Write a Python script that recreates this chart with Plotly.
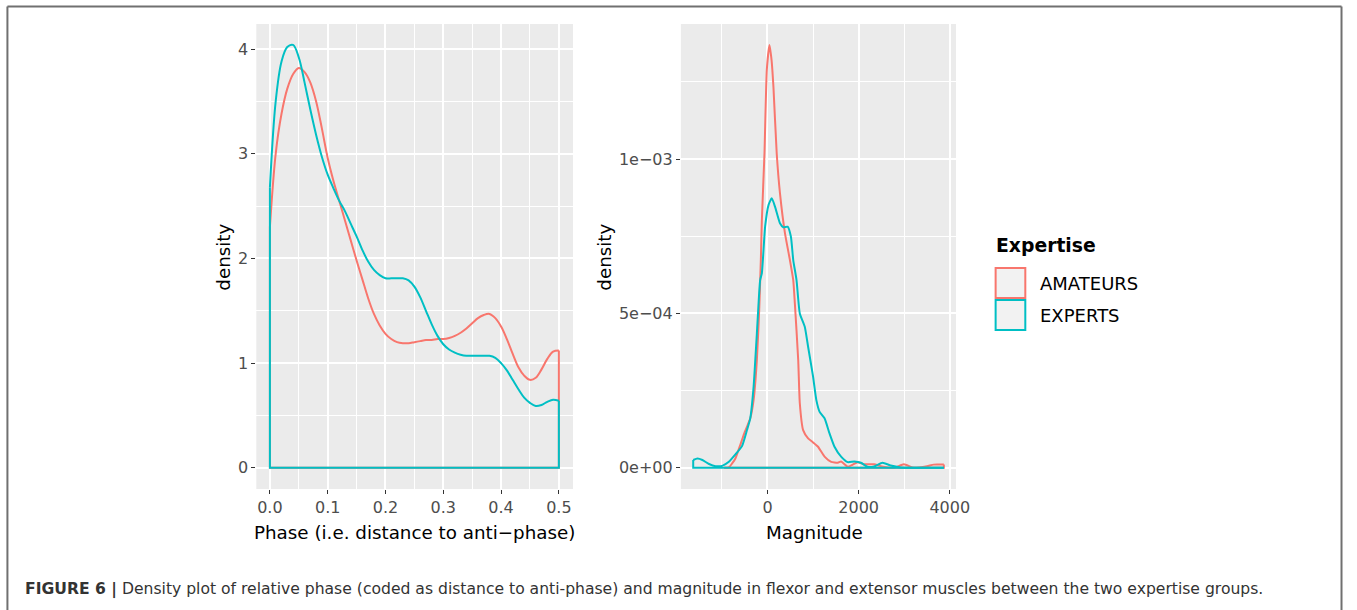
import plotly.graph_objects as go

# phase panel (x = distance to anti-phase)
phase_x = [0.00, 0.01, 0.02, 0.03, 0.04, 0.05, 0.06, 0.07, 0.08, 0.09,
           0.10, 0.11, 0.12, 0.13, 0.14, 0.15, 0.16, 0.17, 0.18, 0.19,
           0.20, 0.21, 0.22, 0.23, 0.24, 0.25, 0.26, 0.27, 0.28, 0.29,
           0.30, 0.31, 0.32, 0.33, 0.34, 0.35, 0.36, 0.37, 0.38, 0.39,
           0.40, 0.41, 0.42, 0.43, 0.44, 0.45, 0.46, 0.47, 0.48, 0.49, 0.50]
phase_amateurs = [2.30, 3.00, 3.38, 3.62, 3.76, 3.82, 3.78, 3.68, 3.50, 3.24,
                  2.96, 2.74, 2.55, 2.36, 2.17, 1.98, 1.80, 1.62, 1.47, 1.36,
                  1.28, 1.23, 1.20, 1.19, 1.19, 1.20, 1.21, 1.22, 1.22, 1.23,
                  1.23, 1.24, 1.26, 1.29, 1.33, 1.38, 1.43, 1.46, 1.47, 1.43,
                  1.35, 1.23, 1.09, 0.96, 0.88, 0.84, 0.86, 0.94, 1.04, 1.11, 1.12]
phase_experts = [2.68, 3.50, 3.88, 4.02, 4.04, 3.92, 3.68, 3.42, 3.18, 2.97,
                 2.80, 2.67, 2.55, 2.45, 2.33, 2.21, 2.08, 1.97, 1.89, 1.84,
                 1.81, 1.81, 1.81, 1.81, 1.79, 1.73, 1.63, 1.50, 1.37, 1.26,
                 1.18, 1.13, 1.10, 1.08, 1.07, 1.07, 1.07, 1.07, 1.07, 1.05,
                 1.00, 0.93, 0.84, 0.75, 0.67, 0.62, 0.59, 0.60, 0.63, 0.65, 0.64]

# magnitude panel
mag_x_amateurs = [-950, -848, -776, -704, -630, -559, -500, -450, -378, -305,
                  -233, -182, -146, -124, -66, -15, 43, 90, 130, 202,
                  274, 383, 492, 565, 600, 674, 709, 782, 891, 1000,
                  1109, 1252, 1398, 1543, 1615, 1761, 1870, 1978, 2123, 2339,
                  2486, 2776, 2993, 3210, 3500, 3645, 3870]
mag_amateurs = [0, 0.000001, 0.000014, 0.000030, 0.000060, 0.000090, 0.000115, 0.000133, 0.000160, 0.000219,
                0.000349, 0.000511, 0.000673, 0.000800, 0.001019, 0.001289, 0.001370, 0.001320, 0.001235, 0.001019,
                0.000889, 0.000760, 0.000673, 0.000608, 0.000533, 0.000349, 0.000209, 0.000122, 0.000095, 0.000082,
                0.000068, 0.000036, 0.000019, 0.000016, 0.000020, 0.000003, 0.000010, 0.000018, 0.000011, 0.000011,
                0.000005, 0.000000, 0.000011, 0.000000, 0.000005, 0.000010, 0.000010]

mag_x_experts = [-1630, -1537, -1428, -1283, -1139, -994, -848, -704, -559, -450,
                 -378, -305, -233, -161, -124, -52, 22, 93, 165, 274,
                 348, 441, 513, 565, 637, 709, 818, 891, 1000, 1072,
                 1144, 1252, 1361, 1470, 1615, 1761, 1905, 2050, 2196, 2341,
                 2522, 2704, 2921, 3210, 3870]
mag_experts = [0.000025, 0.000030, 0.000025, 0.000012, 0.000005, 0.000006, 0.000019, 0.000043, 0.000070, 0.000122,
               0.000160, 0.000262, 0.000435, 0.000608, 0.000630, 0.000781, 0.000851, 0.000873, 0.000846, 0.000792,
               0.000779, 0.000781, 0.000749, 0.000673, 0.000608, 0.000500, 0.000457, 0.000392, 0.000295, 0.000219,
               0.000181, 0.000160, 0.000111, 0.000068, 0.000036, 0.000018, 0.000020, 0.000016, 0.000003, 0.000004,
               0.000016, 0.000007, 0.000001, 0.000000, 0.000000]

groups = ["AMATEURS", "EXPERTS"]
colors = {"AMATEURS": "#F8766D", "EXPERTS": "#00BFC4"}

W, H = 1357, 610
FONT = "DejaVu Sans, Liberation Sans, Arial, sans-serif"


def px(x):
    return x / W


def py(y):
    return 1 - y / H


fig = go.Figure()

panel_data = [
    ("x", "y", phase_x, phase_amateurs, phase_x, phase_experts, 1.0),
    ("x2", "y2", mag_x_amateurs, mag_amateurs, mag_x_experts, mag_experts, 0.5),
]
for xa, ya, xa_vals, a_vals, xe_vals, e_vals, smooth in panel_data:
    for g, xs, ys in [("AMATEURS", xa_vals, a_vals), ("EXPERTS", xe_vals, e_vals)]:
        # open sides + baseline of the density outline
        fig.add_trace(go.Scatter(x=[xs[-1], xs[-1], xs[0], xs[0]], y=[ys[-1], 0, 0, ys[0]],
                                 mode="lines", xaxis=xa, yaxis=ya,
                                 line=dict(color=colors[g], width=2),
                                 showlegend=False, hoverinfo="skip"))
        fig.add_trace(go.Scatter(x=xs, y=ys, mode="lines", xaxis=xa, yaxis=ya,
                                 line=dict(color=colors[g], width=2, shape="spline", smoothing=smooth),
                                 showlegend=False, hoverinfo="skip"))

axis_common = dict(showgrid=True, gridcolor="white", gridwidth=1.8,
                   zeroline=False, showline=False, ticks="outside",
                   ticklen=4, tickwidth=1.2, tickcolor="#333333",
                   tickfont=dict(family=FONT, size=16, color="#4D4D4D"))

fig.update_layout(
    width=W, height=H, autosize=False,
    margin=dict(l=0, r=0, t=0, b=0),
    paper_bgcolor="white",
    plot_bgcolor="#EBEBEB",
    showlegend=False,
    xaxis=dict(domain=[px(259), px(579)], range=[-0.0235, 0.5245], anchor="y",
               tickmode="array", tickvals=[0, 0.1, 0.2, 0.3, 0.4, 0.5],
               ticktext=["0.0", "0.1", "0.2", "0.3", "0.4", "0.5"],
               minor=dict(tickvals=[0.05, 0.15, 0.25, 0.35, 0.45],
                          showgrid=True, gridcolor="white", gridwidth=0.8, ticks=""),
               **axis_common),
    yaxis=dict(domain=[py(489), py(24)], range=[-0.203, 4.24], anchor="x",
               tickmode="array", tickvals=[0, 1, 2, 3, 4],
               minor=dict(tickvals=[0.5, 1.5, 2.5, 3.5],
                          showgrid=True, gridcolor="white", gridwidth=0.8, ticks=""),
               **axis_common),
    xaxis2=dict(domain=[px(688), px(966)], range=[-1900, 4137], anchor="y2",
                tickmode="array", tickvals=[0, 2000, 4000],
                ticktext=["0", "2000", "4000"],
                minor=dict(tickvals=[-1000, 1000, 3000],
                           showgrid=True, gridcolor="white", gridwidth=0.8, ticks=""),
                **axis_common),
    yaxis2=dict(domain=[py(489), py(24)], range=[-0.000069, 0.0014378], anchor="x2",
                tickmode="array", tickvals=[0, 0.0005, 0.001],
                ticktext=["0e+00", "5e\u221204", "1e\u221203"],
                minor=dict(tickvals=[0.00025, 0.00075, 0.00125],
                           showgrid=True, gridcolor="white", gridwidth=0.8, ticks=""),
                **axis_common),
)

# axis titles
titles = [
    ("Phase (i.e. distance to anti\u2212phase)", 419, 532, 0),
    ("Magnitude", 823, 532, 0),
    ("density", 225, 257, -90),
    ("density", 610, 257, -90),
]
for txt, x, y, ang in titles:
    fig.add_annotation(text=txt, x=px(x), y=py(y), xref="paper", yref="paper",
                       showarrow=False, textangle=ang, xanchor="center", yanchor="middle",
                       font=dict(family=FONT, size=18.3, color="black"))

# legend
fig.add_annotation(text="<b>Expertise</b>", x=px(1004), y=py(245), xref="paper", yref="paper",
                   showarrow=False, xanchor="left", yanchor="middle",
                   font=dict(family=FONT, size=18.8, color="black"))
for i, g in enumerate(groups):
    top = 268 + i * 32
    fig.add_shape(type="rect", xref="paper", yref="paper",
                  x0=px(1006), x1=px(1036), y0=py(top), y1=py(top + 30),
                  fillcolor="#F2F2F2", line=dict(color=colors[g], width=2))
    fig.add_annotation(text=g, x=px(1049), y=py(top + 15), xref="paper", yref="paper",
                       showarrow=False, xanchor="left", yanchor="middle",
                       font=dict(family=FONT, size=18, color="black"))

# frame around the figure
frame = dict(color="#707070", width=2)
fig.add_shape(type="line", xref="paper", yref="paper", x0=px(7.5), x1=px(7.5), y0=py(6.5), y1=-0.05, line=frame)
fig.add_shape(type="line", xref="paper", yref="paper", x0=px(7.5), x1=px(1355.5), y0=py(6.5), y1=py(6.5), line=frame)
fig.add_shape(type="line", xref="paper", yref="paper", x0=px(1355.5), x1=px(1355.5), y0=py(6.5), y1=-0.05, line=frame)

fig.add_annotation(
    text="<b>FIGURE 6 |</b> Density plot of relative phase (coded as distance to anti-phase) and magnitude in flexor and extensor muscles between the two expertise groups.",
    x=px(23), y=py(589), xref="paper", yref="paper", showarrow=False,
    xanchor="left", yanchor="middle",
    font=dict(family=FONT, size=15.6, color="#333333"))

fig.write_html("out.html", config={"responsive": False, "displayModeBar": False},
               post_script="document.body.style.margin='0px';"
                           "document.body.style.overflow='hidden';"
                           "document.documentElement.style.overflow='hidden';")
